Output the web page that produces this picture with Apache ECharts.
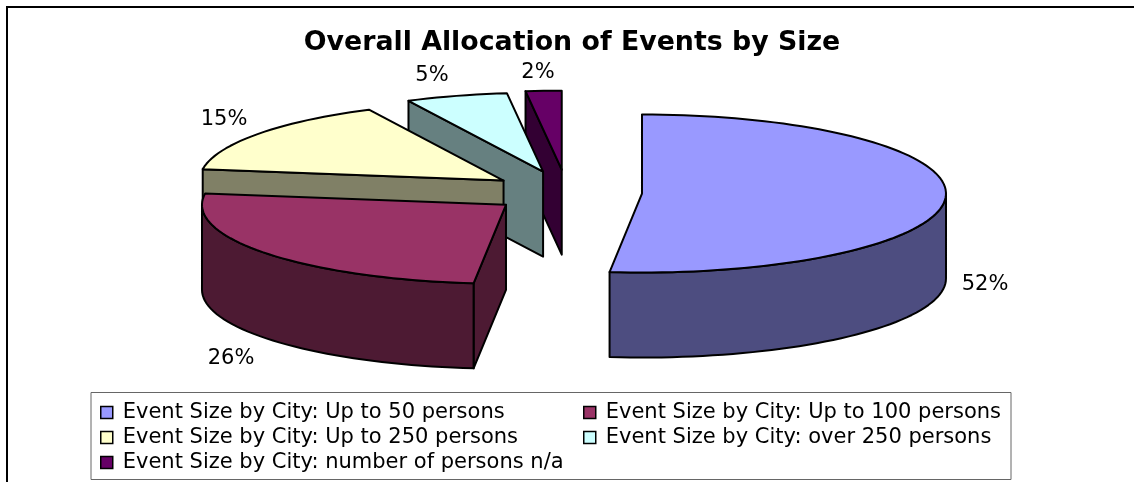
<!DOCTYPE html>
<html>
<head>
<meta charset="utf-8">
<title>Overall Allocation of Events by Size</title>
<script src="https://cdn.jsdelivr.net/npm/echarts@6/dist/echarts.min.js"></script>
<style>
  html, body { margin: 0; padding: 0; background: #fff; }
  #chart { width: 1134px; height: 482px; }
</style>
</head>
<body>
<div id="chart"></div>
<script>
const sliceNames = [
  'Event Size by City: Up to 50 persons',
  'Event Size by City: Up to 100 persons',
  'Event Size by City: Up to 250 persons',
  'Event Size by City: over 250 persons',
  'Event Size by City: number of persons n/a'
];
// labels on the picture are rounded, the slice angles give the decimals
const sliceValues = [51.7, 25.6, 15.4, 5.4, 1.9];
const sliceColors = ['#9999ff', '#993366', '#ffffcc', '#ccffff', '#660066'];
const wallColors = ['#4d4d80', '#4d1a33', '#808066', '#668080', '#330033'];
const sliceExplode = [0.247, 0.254, 0.258, 0.276, 0.29];
const labelCenters = [[985, 285], [231, 359], [224, 120], [432, 76], [538, 73]];

const FONT = '"DejaVu Sans", sans-serif';
const pie = { cx: 567, cy: 192.5, rx: 304, ry: 79, depth: 85 };
const edge = { stroke: '#000', lineWidth: 2, lineJoin: 'round' };
const total = sliceValues.reduce((a, b) => a + b, 0);

// ellipse point, angle in degrees clockwise from the top
function onRim(c, deg, drop) {
  const r = deg * Math.PI / 180;
  return [c[0] + pie.rx * Math.sin(r), c[1] - pie.ry * Math.cos(r) + (drop || 0)];
}

function rim(c, from, to, drop) {
  const pts = [];
  const steps = Math.max(2, Math.ceil((to - from) / 2));
  for (let i = 0; i <= steps; i++) {
    pts.push(onRim(c, from + (to - from) * i / steps, drop));
  }
  return pts;
}

function poly(points, fill) {
  return { type: 'polygon', shape: { points }, style: Object.assign({ fill }, edge), silent: true };
}

function renderSlice(params, api) {
  const i = params.seriesIndex;
  const before = sliceValues.slice(0, i).reduce((a, b) => a + b, 0);
  const from = before / total * 360;
  const to = from + api.value(0) / total * 360;
  const mid = (from + to) / 2 * Math.PI / 180;
  const c = [
    pie.cx + sliceExplode[i] * pie.rx * Math.sin(mid),
    pie.cy - sliceExplode[i] * pie.ry * Math.cos(mid)
  ];
  const children = [];

  // cut face, only the ones turned to the viewer
  if (Math.sin(from * Math.PI / 180) < -0.001) {
    const p = onRim(c, from);
    children.push(poly([c, p, [p[0], p[1] + pie.depth], [c[0], c[1] + pie.depth]], wallColors[i]));
  }
  // outer wall, front half of the rim
  const lo = Math.max(from, 90);
  const hi = Math.min(to, 270);
  if (hi > lo) {
    children.push(poly(rim(c, lo, hi).concat(rim(c, lo, hi, pie.depth).reverse()), wallColors[i]));
  }
  // top face
  children.push(poly([c].concat(rim(c, from, to)), sliceColors[i]));

  children.push({
    type: 'text',
    silent: true,
    style: {
      x: labelCenters[i][0],
      y: labelCenters[i][1],
      text: Math.round(api.value(0)) + '%',
      fill: '#000',
      font: '21px ' + FONT,
      align: 'center',
      verticalAlign: 'middle'
    }
  });
  return { type: 'group', children };
}

const legendBase = {
  orient: 'vertical',
  icon: 'rect',
  itemWidth: 12,
  itemHeight: 12,
  itemGap: 4,
  padding: 0,
  selectedMode: false,
  itemStyle: { borderColor: '#000', borderWidth: 1.5 },
  textStyle: { fontFamily: FONT, fontSize: 21, color: '#000', padding: [0, 0, 0, 5] }
};

const chart = echarts.init(document.getElementById('chart'));
chart.setOption({
  animation: false,
  backgroundColor: '#fff',
  title: {
    text: 'Overall Allocation of Events by Size',
    left: 572,
    top: 30,
    textAlign: 'center',
    padding: 0,
    textStyle: { fontFamily: FONT, fontSize: 26.8, fontWeight: 'bold', color: '#000' }
  },
  legend: [
    Object.assign({}, legendBase, { left: 100, top: 402, data: [sliceNames[0], sliceNames[2], sliceNames[4]] }),
    Object.assign({}, legendBase, { left: 583, top: 402, data: [sliceNames[1], sliceNames[3]] })
  ],
  graphic: [
    {
      type: 'polyline',
      silent: true,
      shape: { points: [[7, 490], [7, 7], [1140, 7]] },
      style: { fill: null, stroke: '#000', lineWidth: 2 }
    },
    {
      type: 'rect',
      silent: true,
      z: -1,
      shape: { x: 91, y: 392.5, width: 920, height: 87 },
      style: { fill: '#fff', stroke: '#666', lineWidth: 1 }
    }
  ],
  series: sliceNames.map((name, i) => ({
    type: 'custom',
    name,
    coordinateSystem: 'none',
    z: 10 - i,
    itemStyle: { color: sliceColors[i] },
    data: [[sliceValues[i]]],
    renderItem: renderSlice
  }))
});
</script>
</body>
</html>
